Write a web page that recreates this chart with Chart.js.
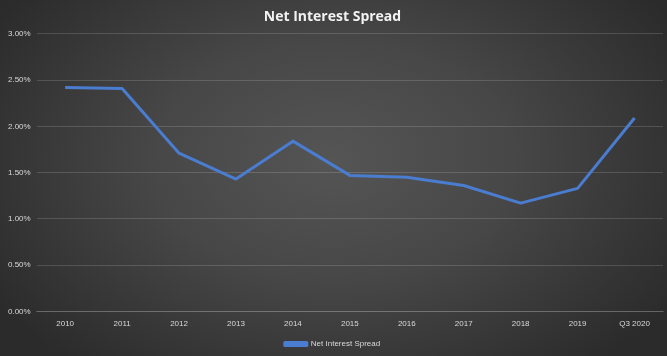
<!DOCTYPE html>
<html><head><meta charset="utf-8">
<script src="https://cdn.jsdelivr.net/npm/chart.js@4.4.0/dist/chart.umd.min.js"></script>
<style>
html,body{margin:0;padding:0;}
body{width:667px;height:356px;background:radial-gradient(ellipse 60% 75% at 50% 45%, #555555 0%, #474747 45%, #2b2b2b 100%);overflow:hidden;}
#wrap{position:relative;width:667px;height:356px;}
</style></head>
<body><div id="wrap"><canvas id="c" width="667" height="356"></canvas></div>
<script>
const categories = ["2010","2011","2012","2013","2014","2015","2016","2017","2018","2019","Q3 2020"];
const spreadValues = [2.42, 2.41, 1.71, 1.43, 1.84, 1.47, 1.45, 1.36, 1.17, 1.33, 2.09];
const yTicks = [0, 0.5, 1.0, 1.5, 2.0, 2.5, 3.0];
const seriesName = "Net Interest Spread";

new Chart(document.getElementById('c'), {
  type: 'line',
  data: {
    labels: categories,
    datasets: [{
      label: seriesName,
      data: spreadValues,
      borderColor: '#4a7ccf',
      backgroundColor: '#4a7ccf',
      borderWidth: 3,
      pointRadius: 0,
      tension: 0,
      borderJoinStyle: 'round'
    }]
  },
  options: {
    responsive: false,
    animation: false,
    layout: { padding: { left: 2, right: 4, top: 4, bottom: -2 } },
    plugins: {
      title: {
        display: true,
        text: 'Net Interest Spread',
        color: '#f2f2f2',
        font: { family: 'Open Sans', size: 14, weight: 'bold' },
        padding: { top: 5, bottom: 8 }
      },
      legend: {
        position: 'bottom',
        labels: {
          color: '#d9d9d9',
          font: { family: 'Liberation Sans', size: 8 },
          boxWidth: 22,
          boxHeight: 3,
          padding: 3
        }
      },
      tooltip: { enabled: false }
    },
    scales: {
      x: {
        offset: true,
        grid: { display: false, drawTicks: false, offset: true },
        border: { display: true, color: 'rgba(255,255,255,0.15)' },
        ticks: { color: '#d9d9d9', font: { family: 'Liberation Sans', size: 8 }, padding: 8, maxRotation: 0 }
      },
      y: {
        min: 0, max: 3,
        afterBuildTicks: (axis) => { axis.ticks = yTicks.map(v => ({ value: v })); },
        grid: { color: 'rgba(255,255,255,0.15)', drawTicks: false },
        border: { display: false },
        ticks: {
          color: '#d9d9d9',
          font: { family: 'Liberation Sans', size: 8 },
          padding: 6,
          callback: (v) => Number(v).toFixed(2) + '%'
        }
      }
    }
  }
});
</script>
</body></html>
